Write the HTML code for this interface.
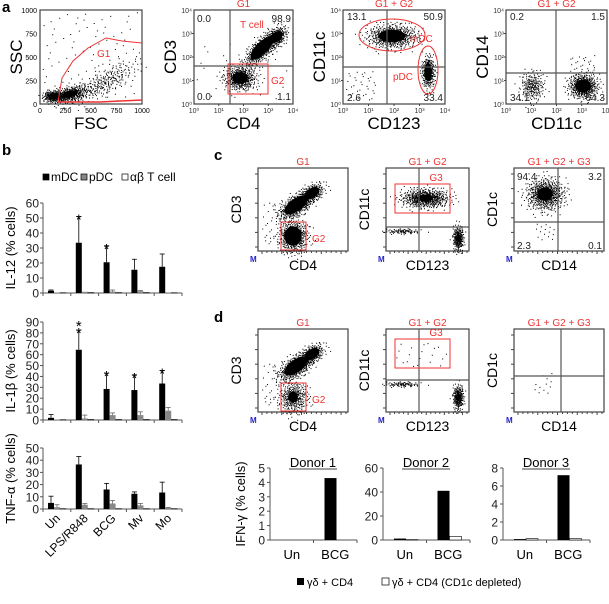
<!DOCTYPE html>
<html><head><meta charset="utf-8"><style>
html,body{margin:0;padding:0;background:#fff}
svg{display:block;font-family:"Liberation Sans",Arial,sans-serif}
</style></head><body>
<svg id="fig" width="609" height="604" viewBox="0 0 609 604" xmlns="http://www.w3.org/2000/svg">
<g id="flow"></g>
<g id="barsB"></g>
<g id="barsD"></g>
<text x="2" y="12" font-size="15" font-weight="bold">a</text>
<text x="2" y="155" font-size="15" font-weight="bold">b</text>
<text x="214" y="160" font-size="15" font-weight="bold">c</text>
<text x="214" y="322" font-size="15" font-weight="bold">d</text>
</svg>
<script>
// ---- panel b data ----
const categories = ["Un","LPS/R848","BCG","Mv","Mo"];
const il12_mDC = [1.5,33.5,20.5,15.5,17.5];
const il12_mDC_err = [0.5,17.5,11,7,8.5];
const il12_pDC = [0.3,0.8,1,1.2,0.2];
const il12_pDC_err = [0,0,1,0.5,0];
const il12_T = [0.2,0.3,0.3,0.3,0.2];
const il12_stars = ["","*","*","",""];
const il1b_mDC = [2,64.5,28.5,27.5,33.5];
const il1b_mDC_err = [3,18,14.5,14,12];
const il1b_pDC = [0.3,1.5,4.5,4.5,8.5];
const il1b_pDC_err = [0,3,2,3,3];
const il1b_T = [0.3,0.5,0.5,0.5,0.5];
const il1b_stars = ["","**","*","*","*"];
const tnf_mDC = [5,36.5,16,12.5,13.5];
const tnf_mDC_err = [5.5,6.5,5,1.5,8.5];
const tnf_pDC = [1.5,3.5,4.5,3,1];
const tnf_pDC_err = [2,1,2.5,1.5,0.3];
const tnf_T = [0.3,0.3,0.3,0.3,0.3];
const il12_ticks = [0,10,20,30,40,50,60];
const il1b_ticks = [0,10,20,30,40,50,60,70,80,90];
const tnf_ticks = [0,10,20,30,40,50];
// ---- panel d donor data ----
const donorCats = ["Un","BCG"];
const donor1_cd4 = [0,4.3];
const donor1_dep = [0,0];
const donor2_cd4 = [1.2,41];
const donor2_dep = [0.3,3];
const donor3_cd4 = [0.1,7.2];
const donor3_dep = [0.15,0.15];
const donor1_ticks = [0,1,2,3,4,5];
const donor2_ticks = [0,20,40,60];
const donor3_ticks = [0,2,4,6,8];

const NS="http://www.w3.org/2000/svg";
function el(parent,tag,attrs,text){const e=document.createElementNS(NS,tag);for(const k in attrs)e.setAttribute(k,attrs[k]);if(text!==undefined)e.textContent=text;parent.appendChild(e);return e;}

// ---------- bar charts b ----------
const B=document.getElementById('barsB');
function legendB(){
  const items=[["mDC","#000",43],["pDC","#888",81],["αβ T cell","#fff",122]];
  items.forEach(it=>{
    const r=el(B,'rect',{x:it[2],y:174,width:6,height:6,fill:it[1],stroke:"#000","stroke-width":0.7});
    
    
    const t=el(B,'text',{x:it[2]+8,y:181,"font-size":12},it[0]);
    
    
  });
}
legendB();
function chartB(name,label,base,top,max,ticks,mdc,mdcE,pdc,pdcE,tc,stars){
  const g=el(B,'g',{});
  
  
  const x0=43,x1=182,gw=(x1-x0)/categories.length;
  const y=v=>base-v*(base-top)/max;
  el(g,'line',{x1:x0,y1:top,x2:x0,y2:base,stroke:"#555"});
  el(g,'line',{x1:x0,y1:base,x2:x1,y2:base,stroke:"#555"});
  ticks.forEach(t=>{
    el(g,'line',{x1:x0-3,y1:y(t),x2:x0,y2:y(t),stroke:"#555"});
    const tl=el(g,'text',{x:x0-4,y:y(t)+4.5,"font-size":12,"text-anchor":"end",fill:"#222"},t);
    
    
  });
  for(let i=0;i<=categories.length;i++)el(g,'line',{x1:x0+gw*i,y1:base,x2:x0+gw*i,y2:base+3,stroke:"#555"});
  const yl=el(g,'text',{transform:`translate(15,${(base+top)/2}) rotate(-90)`,"font-size":13,"text-anchor":"middle"},label);
  
  
  const bw=6;
  categories.forEach((c,i)=>{
    const gx=x0+gw*i+5;
    [[mdc,mdcE,"#000"],[pdc,pdcE,"#888"],[tc,null,"#fff"]].forEach((s,k)=>{
      const v=s[0][i],bx=gx+k*bw;
      const r=el(g,'rect',{x:bx,y:y(v),width:bw,height:base-y(v),fill:s[2],stroke:k==2?"#000":"none","stroke-width":0.5});
      
      
      if(s[1]&&s[1][i]>0){
        const ec=k==0?"#000":"#666",cx=bx+bw/2,ty=y(v+s[1][i]);
        el(g,'line',{x1:cx,y1:y(v),x2:cx,y2:ty,stroke:ec,"stroke-width":0.8});
        el(g,'line',{x1:cx-2.5,y1:ty,x2:cx+2.5,y2:ty,stroke:ec,"stroke-width":0.8});
      }
    });
    if(stars[i]){
      const st=el(g,'text',{x:gx+3,y:y(mdc[i]+mdcE[i])+8,"font-size":15,"text-anchor":"middle"},"*");
      
      
      if(stars[i].length>1){const s2=el(g,'text',{x:gx+3,y:y(mdc[i]+mdcE[i])+1,"font-size":15,"text-anchor":"middle"},"*");}
    }
  });
  return {x0,gw};
}
chartB('il12-chart','IL-12 (% cells)',293,203,60,il12_ticks,il12_mDC,il12_mDC_err,il12_pDC,il12_pDC_err,il12_T,il12_stars);
chartB('il1b-chart','IL-1β (% cells)',420,322,90,il1b_ticks,il1b_mDC,il1b_mDC_err,il1b_pDC,il1b_pDC_err,il1b_T,il1b_stars);
const geo=chartB('tnf-chart','TNF-α (% cells)',509,448,50,tnf_ticks,tnf_mDC,tnf_mDC_err,tnf_pDC,tnf_pDC_err,tnf_T,["","","","",""]);
categories.forEach((c,i)=>{
  const cx=geo.x0+geo.gw*i+geo.gw/2+4;
  const t=el(B,'text',{transform:`translate(${cx},519) rotate(-45)`,"font-size":12,"text-anchor":"end"},c);
  
  
});

// ---------- donor charts ----------
const D=document.getElementById('barsD');
function donor(name,title,ax,max,ticks,cd4,dep){
  const g=el(D,'g',{});
  
  
  const base=540,top=468,x1=ax+87,gw=43.5;
  const y=v=>base-v*(base-top)/max;
  el(g,'line',{x1:ax,y1:top,x2:ax,y2:base,stroke:"#555"});
  el(g,'line',{x1:ax,y1:base,x2:x1,y2:base,stroke:"#555"});
  ticks.forEach(t=>{
    el(g,'line',{x1:ax-3,y1:y(t),x2:ax,y2:y(t),stroke:"#555"});
    const tl=el(g,'text',{x:ax-5,y:y(t)+4.5,"font-size":12,"text-anchor":"end",fill:"#222"},t);
    
    
  });
  el(g,'line',{x1:ax+gw,y1:base,x2:ax+gw,y2:base+3,stroke:"#555"});
  el(g,'line',{x1:x1,y1:base,x2:x1,y2:base+3,stroke:"#555"});
  donorCats.forEach((c,i)=>{
    const bx=ax+gw*i+11;
    const r1=el(g,'rect',{x:bx,y:y(cd4[i]),width:12,height:base-y(cd4[i]),fill:"#000"});
    
    
    const r2=el(g,'rect',{x:bx+12,y:y(dep[i]),width:12,height:base-y(dep[i]),fill:"#fff",stroke:dep[i]>0?"#000":"none","stroke-width":0.6});
    
    
    const t=el(g,'text',{x:ax+gw*i+gw/2,y:559,"font-size":13,"text-anchor":"middle"},c);
    
    
  });
  const tt=el(g,'text',{x:ax+43,y:467,"font-size":13,"text-anchor":"middle"},title);
  
  
  el(g,'line',{x1:ax+19,y1:469,x2:ax+67,y2:469,stroke:"#000","stroke-width":0.8});
}
donor('donor1-chart','Donor 1',270,5,donor1_ticks,donor1_cd4,donor1_dep);
donor('donor2-chart','Donor 2',383,60,donor2_ticks,donor2_cd4,donor2_dep);
donor('donor3-chart','Donor 3',503,8,donor3_ticks,donor3_cd4,donor3_dep);
{const t=el(D,'text',{transform:'translate(245,504) rotate(-90)',"font-size":13,"text-anchor":"middle"},'IFN-γ (% cells)');}
{const r=el(D,'rect',{x:297,y:578,width:7,height:7,fill:"#000"});
 const t=el(D,'text',{x:307,y:586,"font-size":11},'γδ + CD4');
 const r2=el(D,'rect',{x:382,y:578,width:7,height:7,fill:"#fff",stroke:"#000","stroke-width":0.7});
 const t2=el(D,'text',{x:392,y:586,"font-size":11},'γδ + CD4 (CD1c depleted)');}

// ---------- flow plots (decorative dot textures via Halton sequence) ----------
const F=document.getElementById('flow');
function halton(i,b){let f=1,r=0;while(i>0){f/=b;r+=f*(i%b);i=Math.floor(i/b);}return r;}
function cloud(g,cx,cy,rx,ry,n,rot,core,off){
  rot=(rot||0)*Math.PI/180;off=off||0;
  let d="";
  for(let i=1;i<=n;i++){
    const u=halton(i+off,2),v=halton(i+off,3);
    const a=2*Math.PI*u,r=Math.sqrt(-2*Math.log(1-v*0.995))/1.5;
    const px=Math.cos(a)*r*rx,py=Math.sin(a)*r*ry;
    const X=cx+px*Math.cos(rot)-py*Math.sin(rot),Y=cy+px*Math.sin(rot)+py*Math.cos(rot);
    d+=`M${X.toFixed(1)} ${Y.toFixed(1)}h1v1h-1z`;
  }
  el(g,'path',{d:d,fill:"#000"});
  if(core)el(g,'ellipse',{cx:cx,cy:cy,rx:rx*core,ry:ry*core,fill:"#000",transform:`rotate(${rot*180/Math.PI} ${cx} ${cy})`});
}
function scatterBox(g,x0,y0,w,h,n,off){
  let d="";for(let i=1;i<=n;i++){d+=`M${(x0+halton(i+off,5)*w).toFixed(1)} ${(y0+halton(i+off,7)*h).toFixed(1)}h1v1h-1z`;}
  el(g,'path',{d:d,fill:"#000"});
}
function frame(name,x0,y0,w,h,title,xl,yl,big){
  const g=el(F,'g',{});
  
  
  el(g,'rect',{x:x0,y:y0,width:w,height:h,fill:"none",stroke:"#444","stroke-width":1.2});
  if(title){const t=el(g,'text',{x:x0+w/2,y:y0-3,"font-size":10,"text-anchor":"middle",fill:"#e33"},title);}
  const fs=big?17:14;
  const xt=el(g,'text',{x:x0+w/2,y:y0+h+(big?25:19),"font-size":fs,"text-anchor":"middle"},xl);
  const yt=el(g,'text',{transform:`translate(${x0-(big?18:17)},${y0+h/2}) rotate(-90)`,"font-size":fs,"text-anchor":"middle"},yl);
  return g;
}
function logTicks(g,x0,y0,w,h,n){
  for(let i=0;i<=n;i++){
    const x=x0+w*i/n,y=y0+h-h*i/n;
    el(g,'text',{x:x,y:y0+h+9,"font-size":7,"text-anchor":"middle",fill:"#333"},"10"+["⁰","¹","²","³","⁴"][i]);
    el(g,'text',{x:x0-2,y:y+3,"font-size":7,"text-anchor":"end",fill:"#333"},"10"+["⁰","¹","²","³","⁴"][i]);
    if(i>0&&i<n){el(g,'line',{x1:x,y1:y0+h,x2:x,y2:y0+h+2,stroke:"#444"});el(g,'line',{x1:x0-2,y1:y,x2:x0,y2:y,stroke:"#444"});}
  }
}
function flowTicks(g,x0,y0,w,h){
  for(let i=0;i<18;i++){const x=x0+4+i*(w-6)/17;el(g,'line',{x1:x,y1:y0+h,x2:x,y2:y0+h+(i%4==0?3:2),stroke:"#444"});}
  for(let i=0;i<6;i++){const y=y0+6+i*(h-10)/5;el(g,'line',{x1:x0-3,y1:y,x2:x0,y2:y,stroke:"#444"});}
}
function q(g,x,y,t,anchor,c){const e=el(g,'text',{x:x,y:y,"font-size":10,"text-anchor":anchor||"start",fill:c||"#222"},t);}
function line(g,x1,y1,x2,y2){el(g,'line',{x1:x1,y1:y1,x2:x2,y2:y2,stroke:"#555","stroke-width":1.2});}

// a1 FSC/SSC
{const g=frame('fsc-ssc-plot',40,10,102,94,null,'FSC','SSC',true);
 [0,250,500,750,1000].forEach((t,i)=>{el(g,'text',{x:40+102*i/4,y:113,"font-size":7,"text-anchor":"middle"},t);el(g,'text',{x:37,y:104-94*i/4+3,"font-size":7,"text-anchor":"end"},t);});
 scatterBox(g,42,12,98,90,90,3);
 cloud(g,54,96,8,4,300,0,0.6,1);cloud(g,70,94,14,6,350,-15,0.55,40);
 cloud(g,104,82,28,9,260,-30,0,90);
 el(g,'polyline',{points:"58,102 62,78 73,61 88,48 106,38 122,41 142,43",fill:"none",stroke:"#e33","stroke-width":1});
 el(g,'polyline',{points:"58,102 100,102 142,100",fill:"none",stroke:"#e33","stroke-width":1.5});
 el(g,'text',{x:97,y:57,"font-size":10,fill:"#e33"},'G1');}
// a2 CD4/CD3
{const g=frame('cd4-cd3-plot',194,10,99,94,'G1','CD4','CD3',true);logTicks(g,194,10,99,94,4);
 scatterBox(g,196,40,94,62,30,7);
 cloud(g,240,78,12,9,450,0,0.65,11);
 cloud(g,262,48,18,7,500,-45,0.85,200);cloud(g,276,37,9,6,250,-40,0.8,500);
 line(g,230,10,230,104);line(g,194,66,293,66);
 el(g,'rect',{x:228,y:64,width:40,height:30,fill:"none",stroke:"#e33","stroke-width":1});
 q(g,197,22,'0.0');q(g,291,22,'98.9','end');q(g,197,100,'0.0');q(g,291,100,'1.1','end');
 q(g,240,28,'T cell','start','#e33');q(g,271,84,'G2','start','#e33');}
// a3 CD123/CD11c
{const g=frame('cd123-cd11c-plot',343,10,102,94,'G1 + G2','CD123','CD11c',true);logTicks(g,343,10,102,94,4);
 scatterBox(g,346,70,30,30,35,13);
 cloud(g,392,36,19,9,600,0,0.7,21);cloud(g,428,72,5,12,300,0,0.75,400);
 line(g,387,10,387,104);line(g,343,67,445,67);
 el(g,'ellipse',{cx:392,cy:35,rx:33,ry:16,fill:"none",stroke:"#e33","stroke-width":1});
 el(g,'ellipse',{cx:428,cy:70,rx:10,ry:24,fill:"none",stroke:"#e33","stroke-width":1});
 q(g,347,20,'13.1');q(g,443,20,'50.9','end');q(g,347,101,'2.6');q(g,443,101,'33.4','end');
 q(g,410,42,'mDC','start','#e33');q(g,393,80,'pDC','start','#e33');}
// a4 CD11c/CD14
{const g=frame('cd11c-cd14-plot',506,10,101,94,'G1 + G2','CD11c','CD14',true);logTicks(g,506,10,101,94,4);
 cloud(g,532,86,9,11,220,0,0,31);cloud(g,583,86,11,9,500,0,0.7,600);scatterBox(g,570,55,25,25,35,17);
 line(g,556,10,556,104);line(g,506,73,607,73);
 q(g,510,20,'0.2');q(g,605,20,'1.5','end');q(g,510,101,'34.1');q(g,605,101,'64.3','end');}

function cdPlots(prefix,dy,depleted){
 {const g=frame(prefix+'-cd4-cd3-plot',258,168+dy,90,83,'G1','CD4','CD3',false);flowTicks(g,258,168+dy,90,83);
  cloud(g,296,205+dy,15,7,550,-35,0.9,5+dy);cloud(g,312,193+dy,10,6,250,-35,0.8,700);
  cloud(g,293,236+dy,11,12,depleted?350:500,0,depleted?0.45:0.8,900);scatterBox(g,262,200+dy,20,45,30,19);
  el(g,'rect',{x:281,y:222+dy,width:25,height:28,fill:"none",stroke:"#e33","stroke-width":1});
  q(g,312,242+dy,'G2','start','#e33');
  el(g,'text',{x:250,y:262+dy,"font-size":8,fill:"#22c","font-weight":"bold"},'M');}
 {const g=frame(prefix+'-cd123-cd11c-plot',386,168+dy,83,83,'G1 + G2','CD123','CD11c',false);flowTicks(g,386,168+dy,83,83);
  if(!depleted){cloud(g,425,198+dy,18,7,600,0,0.45,50+dy);}else scatterBox(g,396,186+dy-6,52,26,20,23);
  cloud(g,458,238+dy-(depleted?2:0),4,9,250,0,0.45,1100);cloud(g,402,231+dy-(depleted?8:0),13,2,90,0,0,1300);
  line(g,419,168+dy,419,251+dy);line(g,386,227+dy+(depleted?-8:0),469,227+dy+(depleted?-8:0));
  el(g,'rect',{x:395,y:184+dy-(depleted?6:0),width:55,height:29,fill:"none",stroke:"#e33","stroke-width":1});
  q(g,436,181+dy-(depleted?6:0),'G3','middle','#e33');
  el(g,'text',{x:378,y:262+dy,"font-size":8,fill:"#22c","font-weight":"bold"},'M');}
 {const g=frame(prefix+'-cd14-cd1c-plot',514,168+dy,90,83,'G1 + G2 + G3','CD14','CD1c',false);flowTicks(g,514,168+dy,90,83);
  if(!depleted){cloud(g,545,194+dy,14,12,650,0,0.55,77);scatterBox(g,535,222,20,18,15,29);
   q(g,517,180+dy,'94.4');q(g,602,180+dy,'3.2','end');q(g,517,249+dy,'2.3');q(g,602,249+dy,'0.1','end');}
  else scatterBox(g,532,212+dy,20,20,12,37);
  line(g,558+(depleted?3:0),168+dy,558+(depleted?3:0),251+dy);line(g,514,222+dy-(depleted?7:0),604,222+dy-(depleted?7:0));
  el(g,'text',{x:506,y:262+dy,"font-size":8,fill:"#22c","font-weight":"bold"},'M');}
}
cdPlots('c',0,false);
cdPlots('d',161,true);
</script>
</body></html>
